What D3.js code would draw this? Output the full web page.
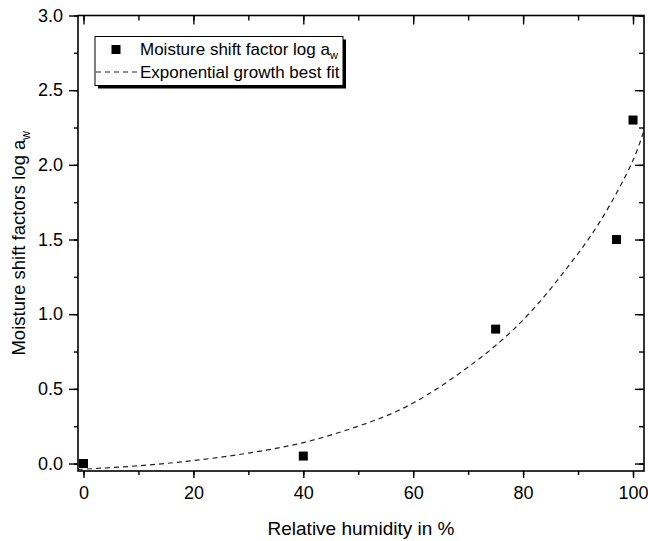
<!DOCTYPE html>
<html>
<head>
<meta charset="utf-8">
<script src="https://cdn.jsdelivr.net/npm/d3@7"></script>
<style>
  body { margin: 0; background: #fff; }
  svg { font-family: "Liberation Sans", Arial, sans-serif; }
</style>
</head>
<body>
<svg id="vis" width="648" height="541"></svg>
<script>
// measured points
var humidity = [0, 40, 75, 97, 100];
var shiftFactor = [0, 0.05, 0.9, 1.5, 2.3];

// best fit curve
var fitX = [-1, 10, 20, 30, 40, 50, 57, 63, 69, 75, 81, 88, 94, 100, 102];
var fitY = [-0.04, -0.015, 0.02, 0.07, 0.14, 0.25, 0.35, 0.47, 0.62, 0.79, 1.0, 1.31, 1.62, 2.03, 2.23];

var xTicks = [0, 20, 40, 60, 80, 100];
var yTicks = [0, 0.5, 1.0, 1.5, 2.0, 2.5, 3.0];

var svg = d3.select("#vis");
var pLeft = 78, pRight = 644, pTop = 15.5, pBottom = 471;

var x = d3.scaleLinear().domain([-1, 102]).range([pLeft, pRight]);
var y = d3.scaleLinear().domain([-0.05, 3.0]).range([pBottom, pTop]);

var xMinor = d3.range(0, 101, 10);
var yMinor = d3.range(0, 3.01, 0.25);

// bottom axis, ticks outward
var gb = svg.append("g").attr("transform", "translate(0," + pBottom + ")");
gb.append("g").call(d3.axisBottom(x).tickValues(xMinor).tickSize(4).tickFormat(""));
gb.append("g").call(d3.axisBottom(x).tickValues(xTicks).tickSize(7).tickPadding(8).tickFormat(d3.format("d")));

// left axis
var gl = svg.append("g").attr("transform", "translate(" + pLeft + ",0)");
gl.append("g").call(d3.axisLeft(y).tickValues(yMinor).tickSize(4).tickFormat(""));
gl.append("g").call(d3.axisLeft(y).tickValues(yTicks).tickSize(9).tickPadding(6).tickFormat(d3.format(".1f")));

// top and right mirrors, ticks inward
var gt = svg.append("g").attr("transform", "translate(0," + pTop + ")");
gt.append("g").call(d3.axisTop(x).tickValues(xMinor).tickSize(-5).tickFormat(""));
gt.append("g").call(d3.axisTop(x).tickValues(xTicks).tickSize(-9).tickFormat(""));

var gr = svg.append("g").attr("transform", "translate(" + pRight + ",0)");
gr.append("g").call(d3.axisRight(y).tickValues(yMinor).tickSize(-5).tickFormat(""));
gr.append("g").call(d3.axisRight(y).tickValues(yTicks).tickSize(-9).tickFormat(""));

svg.selectAll(".domain").remove();
svg.selectAll(".tick line").attr("stroke", "#000").attr("stroke-width", 1.4);
svg.selectAll(".tick text").attr("font-size", 18).attr("fill", "#000")
  .attr("font-family", "Liberation Sans, Arial, sans-serif");

// frame
svg.append("rect")
  .attr("x", pLeft).attr("y", pTop)
  .attr("width", pRight - pLeft).attr("height", pBottom - pTop)
  .attr("fill", "none").attr("stroke", "#000").attr("stroke-width", 1.6);

// fit line
var line = d3.line()
  .x(function(d) { return x(d[0]); })
  .y(function(d) { return y(d[1]); })
  .curve(d3.curveCatmullRom);

svg.append("path")
  .datum(d3.zip(fitX, fitY))
  .attr("d", line)
  .attr("fill", "none")
  .attr("stroke", "#222")
  .attr("stroke-width", 1.2)
  .attr("stroke-dasharray", "5,4");

// points
svg.append("g").selectAll("rect")
  .data(d3.zip(humidity, shiftFactor))
  .enter().append("rect")
    .attr("x", function(d) { return x(d[0]) - 4.5; })
    .attr("y", function(d) { return y(d[1]) - 4.5; })
    .attr("width", 9).attr("height", 9)
    .attr("fill", "#000");

// axis titles
svg.append("text")
  .attr("x", (pLeft + pRight) / 2).attr("y", 535)
  .attr("text-anchor", "middle").attr("font-size", 19).attr("fill", "#000")
  .text("Relative humidity in %");

var yt = svg.append("text")
  .attr("transform", "translate(25," + (pTop + pBottom) / 2 + ") rotate(-90)")
  .attr("text-anchor", "middle").attr("font-size", 18.5).attr("fill", "#000");
yt.append("tspan").text("Moisture shift factors log a");
yt.append("tspan").attr("font-size", 12).attr("dy", 5).text("w");

// legend
var lg = svg.append("g");
lg.append("rect").attr("x", 98).attr("y", 39.5).attr("width", 248).attr("height", 49).attr("fill", "#000");
lg.append("rect").attr("x", 95).attr("y", 36.5).attr("width", 248).attr("height", 49)
  .attr("fill", "#fff").attr("stroke", "#000").attr("stroke-width", 1);
lg.append("rect").attr("x", 111.5).attr("y", 45).attr("width", 9).attr("height", 9).attr("fill", "#000");
lg.append("line").attr("x1", 96).attr("x2", 137).attr("y1", 72).attr("y2", 72)
  .attr("stroke", "#222").attr("stroke-width", 1.2).attr("stroke-dasharray", "5,4");
var t1 = lg.append("text").attr("x", 140).attr("y", 55).attr("font-size", 17).attr("fill", "#000");
t1.append("tspan").text("Moisture shift factor log a");
t1.append("tspan").attr("font-size", 11).attr("dy", 4).text("w");
lg.append("text").attr("x", 140).attr("y", 78).attr("font-size", 17).attr("fill", "#000")
  .text("Exponential growth best fit");
</script>
</body>
</html>
